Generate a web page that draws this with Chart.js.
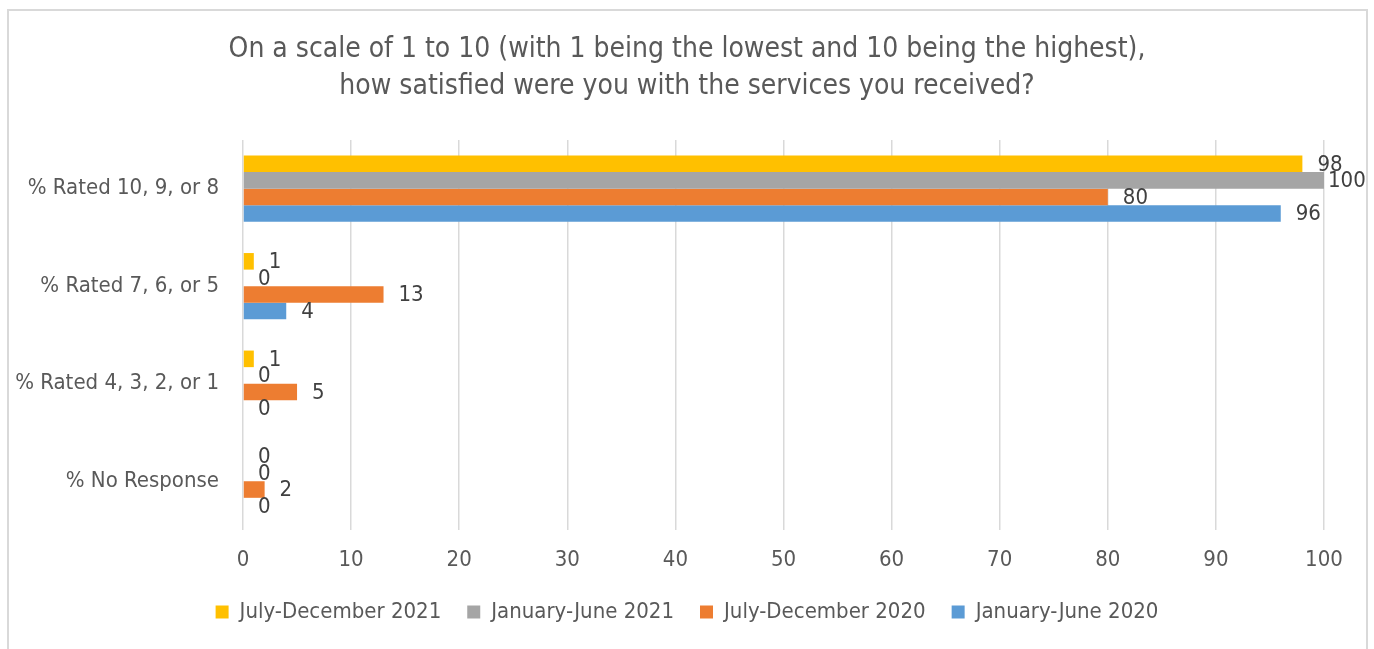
<!DOCTYPE html>
<html>
<head>
<meta charset="utf-8">
<script src="https://cdn.jsdelivr.net/npm/chart.js@4.4.1/dist/chart.umd.min.js"></script>
<style>
  html, body { margin: 0; padding: 0; background: #fff; }
  #wrap { position: relative; width: 1374px; height: 649px; overflow: hidden; }
  #frame { position: absolute; left: 7px; top: 9px; width: 1361px; height: 680px; border: 2px solid #d9d9d9; box-sizing: border-box; }
  #chart { position: absolute; left: 0; top: 0; }
</style>
</head>
<body>
<div id="wrap">
  <div id="frame"></div>
  <canvas id="chart" width="1374" height="649"></canvas>
</div>
<script>
// categories (top to bottom)
const categories = ["% Rated 10, 9, or 8", "% Rated 7, 6, or 5", "% Rated 4, 3, 2, or 1", "% No Response"];

// series, in legend order
const seriesNames = ["July-December 2021", "January-June 2021", "July-December 2020", "January-June 2020"];
const julDec2021 = [98, 1, 1, 0];
const janJun2021 = [100, 0, 0, 0];
const julDec2020 = [80, 13, 5, 2];
const janJun2020 = [96, 4, 0, 0];
const seriesColors = ["#FFC000", "#A5A5A5", "#ED7D31", "#5B9BD5"];

const xTicks = [0, 10, 20, 30, 40, 50, 60, 70, 80, 90, 100];

const FONT = "'Liberation Sans Narrow', 'DejaVu Sans Condensed', 'Liberation Sans', sans-serif";

// value labels at the end of each bar, kept inside the frame
const barLabels = {
    id: 'barLabels',
    afterDatasetsDraw(chart) {
        const ctx = chart.ctx;
        ctx.save();
        ctx.font = "22px " + FONT;
        ctx.fillStyle = "#404040";
        ctx.textAlign = "left";
        ctx.textBaseline = "middle";
        chart.data.datasets.forEach((ds, i) => {
            const meta = chart.getDatasetMeta(i);
            meta.data.forEach((bar, j) => {
                const txt = String(ds.data[j]);
                const w = ctx.measureText(txt).width;
                let x = Math.min(bar.x + 15, chart.width - w - 9);
                x = Math.max(x, bar.x + 4);
                ctx.fillText(txt, x, bar.y + 1);
            });
        });
        ctx.restore();
    }
};

const allSeries = [julDec2021, janJun2021, julDec2020, janJun2020];
const datasets = allSeries.map((values, i) => ({
    label: seriesNames[i],
    data: values,
    backgroundColor: seriesColors[i],
    borderWidth: 0,
    categoryPercentage: 0.68,
    barPercentage: 1.0
}));

new Chart(document.getElementById('chart'), {
    type: 'bar',
    data: { labels: categories, datasets: datasets },
    plugins: [barLabels],
    options: {
        indexAxis: 'y',
        responsive: false,
        animation: false,
        layout: { padding: { left: 0, right: 0, top: 0, bottom: 16 } },
        scales: {
            x: {
                min: 0,
                max: 100,
                afterBuildTicks(scale) { scale.ticks = xTicks.map(v => ({ value: v })); },
                afterFit(scale) { scale.height = 45; },
                grid: { color: "#d9d9d9", lineWidth: 1.5, drawTicks: false },
                border: { display: false },
                ticks: { padding: 17, color: "#595959", font: { family: FONT, size: 22 } }
            },
            y: {
                afterFit(scale) { scale.width = 243; },
                grid: { display: false, drawTicks: false },
                border: { display: false },
                ticks: { padding: 24, color: "#595959", font: { family: FONT, size: 22 } }
            },
            // empty margin on the right of the plot
            yRight: {
                type: 'category',
                position: 'right',
                afterFit(scale) { scale.width = 50; },
                grid: { display: false, drawTicks: false },
                border: { display: false },
                ticks: { display: false }
            }
        },
        plugins: {
            title: {
                display: true,
                text: ["On a scale of 1 to 10 (with 1 being the lowest and 10 being the highest),",
                       "how satisfied were you with the services you received?"],
                color: "#595959",
                font: { family: FONT, size: 28, weight: 'normal', lineHeight: 1.32 },
                padding: { top: 31, bottom: 35 }
            },
            legend: {
                position: 'bottom',
                labels: {
                    color: "#595959",
                    font: { family: FONT, size: 22 },
                    boxWidth: 13,
                    boxHeight: 13,
                    padding: 26
                }
            },
            tooltip: { enabled: false }
        }
    }
});
</script>
</body>
</html>
